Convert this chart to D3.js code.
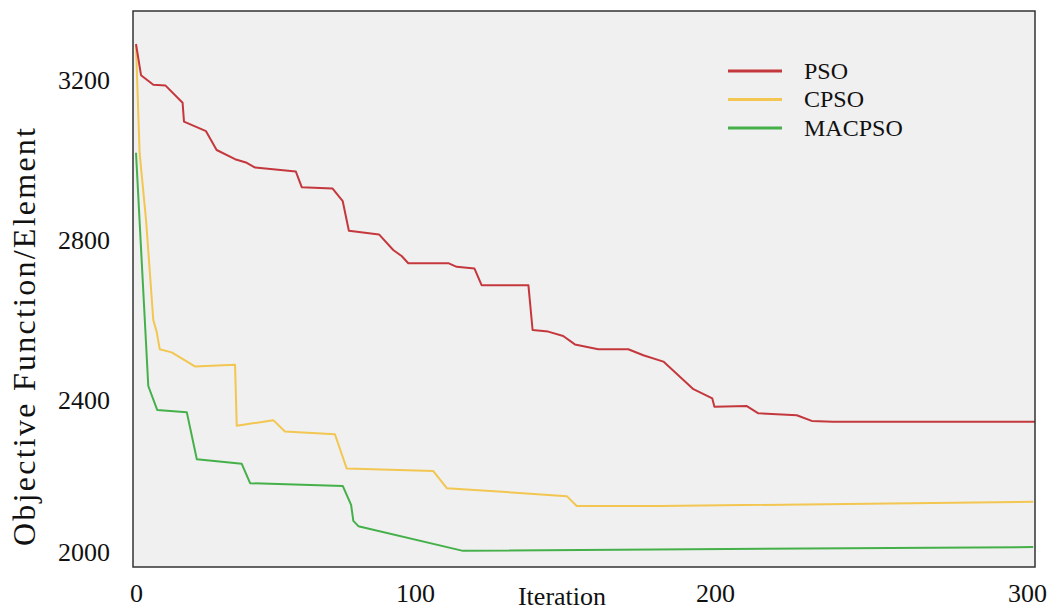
<!DOCTYPE html>
<html>
<head>
<meta charset="utf-8">
<script src="https://cdn.jsdelivr.net/npm/d3@7"></script>
<style>
  body { margin: 0; background: #fff; }
  svg text { font-family: "Liberation Serif", "Times New Roman", serif; fill: #111; }
</style>
</head>
<body>
<svg id="chart" width="1058" height="611"></svg>
<script>
// values
const iterPSO = [0,1.8,6.2,10.6,16.7,17.2,25.1,28.9,35.5,39.7,42.7,57.3,59.4,70.4,74.1,76.3,87.1,92.2,95.2,97.6,111.1,113.9,119.8,122.2,137.8,139.2,144.4,149.4,153.3,161.1,171.1,176.1,182.8,192.8,199.1,199.8,210.2,213.9,226.2,231,237.8,303];
const valPSO  = [3290,3212,3188,3186,3143,3096,3072,3025,3002,2993,2981,2971,2932,2929,2897,2823,2814,2775,2760,2742,2742,2733,2729,2687,2687,2575,2571,2560,2539,2527,2527,2512,2496,2427,2404,2382,2384,2365,2360,2345,2343,2343];
const iterCPSO = [0,1.3,3.6,6.2,7.4,8.5,12.8,21.1,35.5,36.1,49.2,53.4,71.3,75.5,106.1,110.6,150.6,153.9,181.7,302];
const valCPSO  = [3287,3017,2850,2600,2571,2527,2519,2484,2488,2332,2347,2317,2310,2220,2213,2168,2147,2121,2121,2132];
const iterMACPSO = [0,4.4,7.6,18.2,21.8,37.9,40.9,74.1,77.1,77.9,79.7,116,302];
const valMACPSO  = [3018,2435,2374,2368,2244,2232,2181,2174,2124,2082,2068,2003,2013];
const seriesNames = ["PSO", "CPSO", "MACPSO"];
const xTicks = [0, 100, 200, 300];
const yTicks = [2000, 2400, 2800, 3200];

const colors = {PSO: "#c4383d", CPSO: "#f2c650", MACPSO: "#45b04a"};
const box = {left: 133, right: 1035, top: 11, bottom: 567};

const svg = d3.select("#chart");

// the source axis is not quite uniform, so the scales follow the printed labels
const x = d3.scaleLinear().domain([0, 100, 200, 300]).range([136, 415, 715, 1027]);
const y = d3.scaleLinear().domain([2000, 2400, 3200]).range([552, 400, 80]);

svg.append("defs").append("clipPath").attr("id", "clip")
  .append("rect").attr("x", box.left).attr("y", box.top)
  .attr("width", box.right - box.left).attr("height", box.bottom - box.top);

svg.append("rect").attr("x", box.left).attr("y", box.top)
  .attr("width", box.right - box.left).attr("height", box.bottom - box.top)
  .attr("fill", "#f0f0f0");

const data = {
  PSO: iterPSO.map((d, i) => [d, valPSO[i]]),
  CPSO: iterCPSO.map((d, i) => [d, valCPSO[i]]),
  MACPSO: iterMACPSO.map((d, i) => [d, valMACPSO[i]])
};

const line = d3.line().x(d => x(d[0])).y(d => y(d[1]));
const lines = svg.append("g").attr("clip-path", "url(#clip)");
seriesNames.slice().reverse().forEach(name => {
  lines.append("path").datum(data[name])
    .attr("fill", "none").attr("stroke", colors[name]).attr("stroke-width", 2)
    .attr("stroke-linejoin", "round").attr("d", line);
});

svg.append("rect").attr("x", box.left).attr("y", box.top)
  .attr("width", box.right - box.left).attr("height", box.bottom - box.top)
  .attr("fill", "none").attr("stroke", "#333").attr("stroke-width", 1.5);

const xAxis = svg.append("g").attr("transform", `translate(0,${box.bottom})`)
  .call(d3.axisBottom(x).tickValues(xTicks).tickSize(0).tickPadding(17).tickFormat(d3.format("d")));
const yAxis = svg.append("g").attr("transform", `translate(${box.left},0)`)
  .call(d3.axisLeft(y).tickValues(yTicks).tickSize(0).tickPadding(23).tickFormat(d3.format("d")));
[xAxis, yAxis].forEach(g => {
  g.select(".domain").remove();
  g.selectAll("text").attr("font-size", 26).attr("font-family", "Liberation Serif").attr("fill", "#111");
});

svg.append("text").attr("x", 562).attr("y", 605).attr("text-anchor", "middle")
  .attr("font-size", 26).text("Iteration");
svg.append("text").attr("transform", "translate(35,337) rotate(-90)").attr("text-anchor", "middle")
  .attr("font-size", 32).attr("textLength", 418).attr("lengthAdjust", "spacing")
  .text("Objective Function/Element");

const legend = svg.append("g").attr("transform", "translate(728,71)");
seriesNames.forEach((name, i) => {
  const g = legend.append("g").attr("transform", `translate(0,${i * 28.5})`);
  g.append("line").attr("x1", 0).attr("x2", 54).attr("stroke", colors[name]).attr("stroke-width", 3);
  g.append("text").attr("x", 76).attr("dy", "0.33em").attr("font-size", 24).text(name);
});
</script>
</body>
</html>
